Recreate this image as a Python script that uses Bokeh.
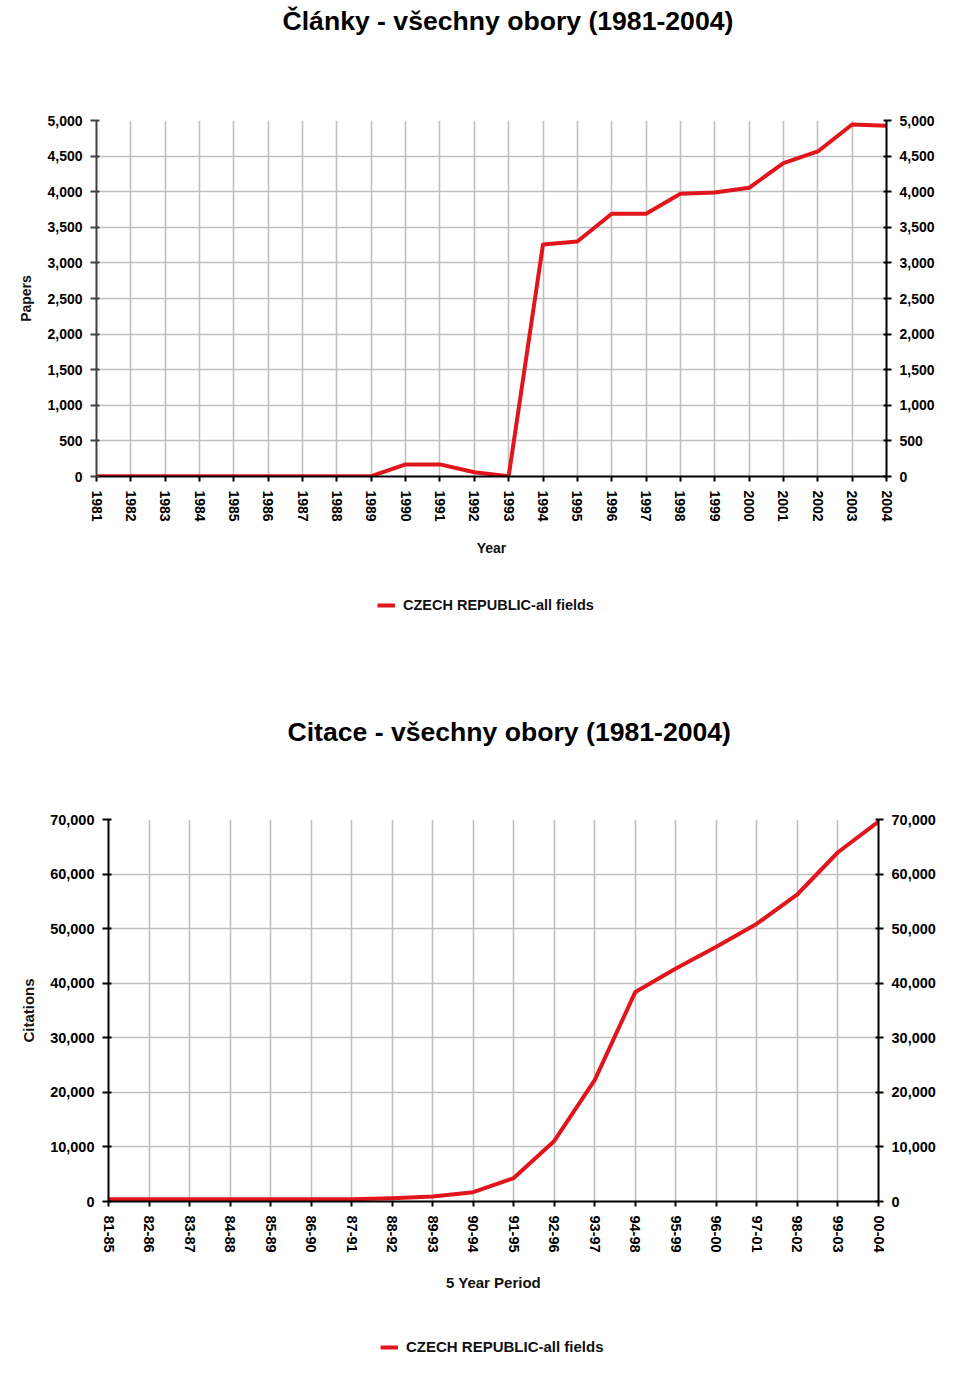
from bokeh.plotting import figure
from bokeh.models import (LinearAxis, Range1d, NumeralTickFormatter, FixedTicker,
                          Title, Legend, LegendItem)
from bokeh.embed import file_html
from bokeh.resources import INLINE

# ---------------- data ----------------
years = [1981, 1982, 1983, 1984, 1985, 1986, 1987, 1988, 1989, 1990, 1991, 1992,
         1993, 1994, 1995, 1996, 1997, 1998, 1999, 2000, 2001, 2002, 2003, 2004]
papers = [5, 5, 5, 5, 5, 5, 5, 5, 5, 170, 170, 60,
          5, 3260, 3300, 3690, 3690, 3970, 3990, 4055, 4400, 4565, 4944, 4925]

periods = ["81-85", "82-86", "83-87", "84-88", "85-89", "86-90", "87-91", "88-92",
           "89-93", "90-94", "91-95", "92-96", "93-97", "94-98", "95-99", "96-00",
           "97-01", "98-02", "99-03", "00-04"]
citations = [400, 400, 400, 400, 400, 400, 420, 600, 900, 1700, 4300, 11100,
             22300, 38400, 42700, 46700, 50900, 56300, 64000, 69600]

title1 = "Články - všechny obory (1981-2004)"
title2 = "Citace - všechny obory (1981-2004)"
series_name = "CZECH REPUBLIC-all fields"

FONT = "Liberation Sans"
RED = "#e1151c"
GRID = "#c0c0c0"


def style_axis(ax, size, color="black", tick_in=0, tick_out=6):
    ax.axis_line_color = color
    ax.axis_line_width = 2
    ax.major_tick_line_color = color
    ax.major_tick_line_width = 2
    ax.major_tick_in = tick_in
    ax.major_tick_out = tick_out
    ax.minor_tick_line_color = None
    ax.major_label_text_font = FONT
    ax.major_label_text_font_style = "bold"
    ax.major_label_text_font_size = size
    ax.major_label_text_color = "black"
    ax.axis_label_text_font = FONT
    ax.axis_label_text_font_style = "bold"
    ax.axis_label_text_color = "#111111"


def make_fig(xs, ys, xstart, xend, ymax, ystep, height, borders, tick_size,
             label_size, xlabel, ylabel, title, spacer_standoff, title_offset,
             xticks, xlabel_standoff, overrides=None, left_color="black"):
    left, right, top, bottom = borders
    p = figure(width=960, height=height, output_backend="svg", toolbar_location=None,
               x_range=Range1d(xstart, xend), y_range=Range1d(0, ymax),
               min_border_left=left, min_border_right=right,
               min_border_top=top, min_border_bottom=bottom,
               x_axis_label=xlabel, y_axis_label=ylabel)
    p.outline_line_color = None
    p.background_fill_color = "white"
    p.border_fill_color = "white"

    yticker = FixedTicker(ticks=list(range(0, ymax + 1, ystep)))
    xticker = FixedTicker(ticks=xticks)
    p.xaxis.ticker = xticker
    p.yaxis.ticker = yticker
    p.xgrid.ticker = xticker
    p.ygrid.ticker = yticker
    for g in (p.xgrid, p.ygrid):
        g.grid_line_color = GRID
        g.grid_line_width = 1.6

    p.yaxis.formatter = NumeralTickFormatter(format="0,0")
    if overrides:
        p.xaxis.major_label_overrides = overrides

    ra = LinearAxis(ticker=yticker, formatter=NumeralTickFormatter(format="0,0"))
    p.add_layout(ra, "right")

    style_axis(p.xaxis[0], tick_size, tick_out=5)
    style_axis(p.yaxis[0], tick_size, color=left_color, tick_in=3, tick_out=6)
    style_axis(ra, tick_size, tick_in=3, tick_out=5)
    p.xaxis[0].major_label_orientation = "vertical"
    p.xaxis[0].major_label_standoff = 9
    p.yaxis[0].major_label_standoff = 8
    ra.major_label_standoff = 8
    p.xaxis[0].axis_label_text_font_size = label_size
    p.yaxis[0].axis_label_text_font_size = label_size
    p.xaxis[0].axis_label_standoff = xlabel_standoff
    p.yaxis[0].axis_label_standoff = 10

    p.line(xs, ys, line_color=RED, line_width=4, line_join="round")

    # spacer between frame and title, then the title itself
    spacer = Title(text=" ", text_font_size="10px", standoff=spacer_standoff,
                   text_color="white")
    p.add_layout(spacer, "above")
    t = Title(text=title, align="left", offset=title_offset, standoff=6,
              text_font=FONT, text_font_style="bold", text_font_size="26.6px",
              text_color="black")
    p.add_layout(t, "above")
    return p


def make_legend_fig(xs, ys, height, loc, size):
    q = figure(width=960, height=height, output_backend="svg", toolbar_location=None,
               x_range=Range1d(0, 1), y_range=Range1d(0, 1),
               x_axis_type=None, y_axis_type=None, min_border=0)
    q.outline_line_color = None
    q.xgrid.visible = False
    q.ygrid.visible = False
    q.background_fill_color = "white"
    q.border_fill_color = "white"
    # same series, drawn outside this legend strip's view, only used for the key
    r = q.line(xs, ys, line_color=RED, line_width=4)
    leg = Legend(items=[LegendItem(label=series_name, renderers=[r])],
                 location=loc, orientation="horizontal",
                 glyph_width=18, glyph_height=16, label_height=16,
                 label_standoff=8, padding=0, margin=0,
                 border_line_color=None, background_fill_alpha=0,
                 label_text_font=FONT, label_text_font_style="bold",
                 label_text_font_size=size, label_text_color="#111111")
    q.add_layout(leg, "center")
    return q


p1 = make_fig(years, papers, 1981, 2004, 5000, 500, 580, (96, 74, 120, 104),
              "14px", "14px", "Year", "Papers", title1, 69, 186,
              years, 15, left_color="#404040")
l1 = make_legend_fig(years, papers, 113, (377, 80), "14.5px")

xs2 = list(range(len(periods)))
p2 = make_fig(xs2, citations, 0, len(periods) - 1, 70000, 10000, 610,
              (108, 82, 126, 102), "14.5px", "15px", "5 Year Period", "Citations",
              title2, 57, 179, xs2, 18,
              overrides={i: s for i, s in enumerate(periods)})
l2 = make_legend_fig(xs2, citations, 83, (380, 31), "15px")

open("out.html", "w").write(file_html((p1, l1, p2, l2), INLINE))
